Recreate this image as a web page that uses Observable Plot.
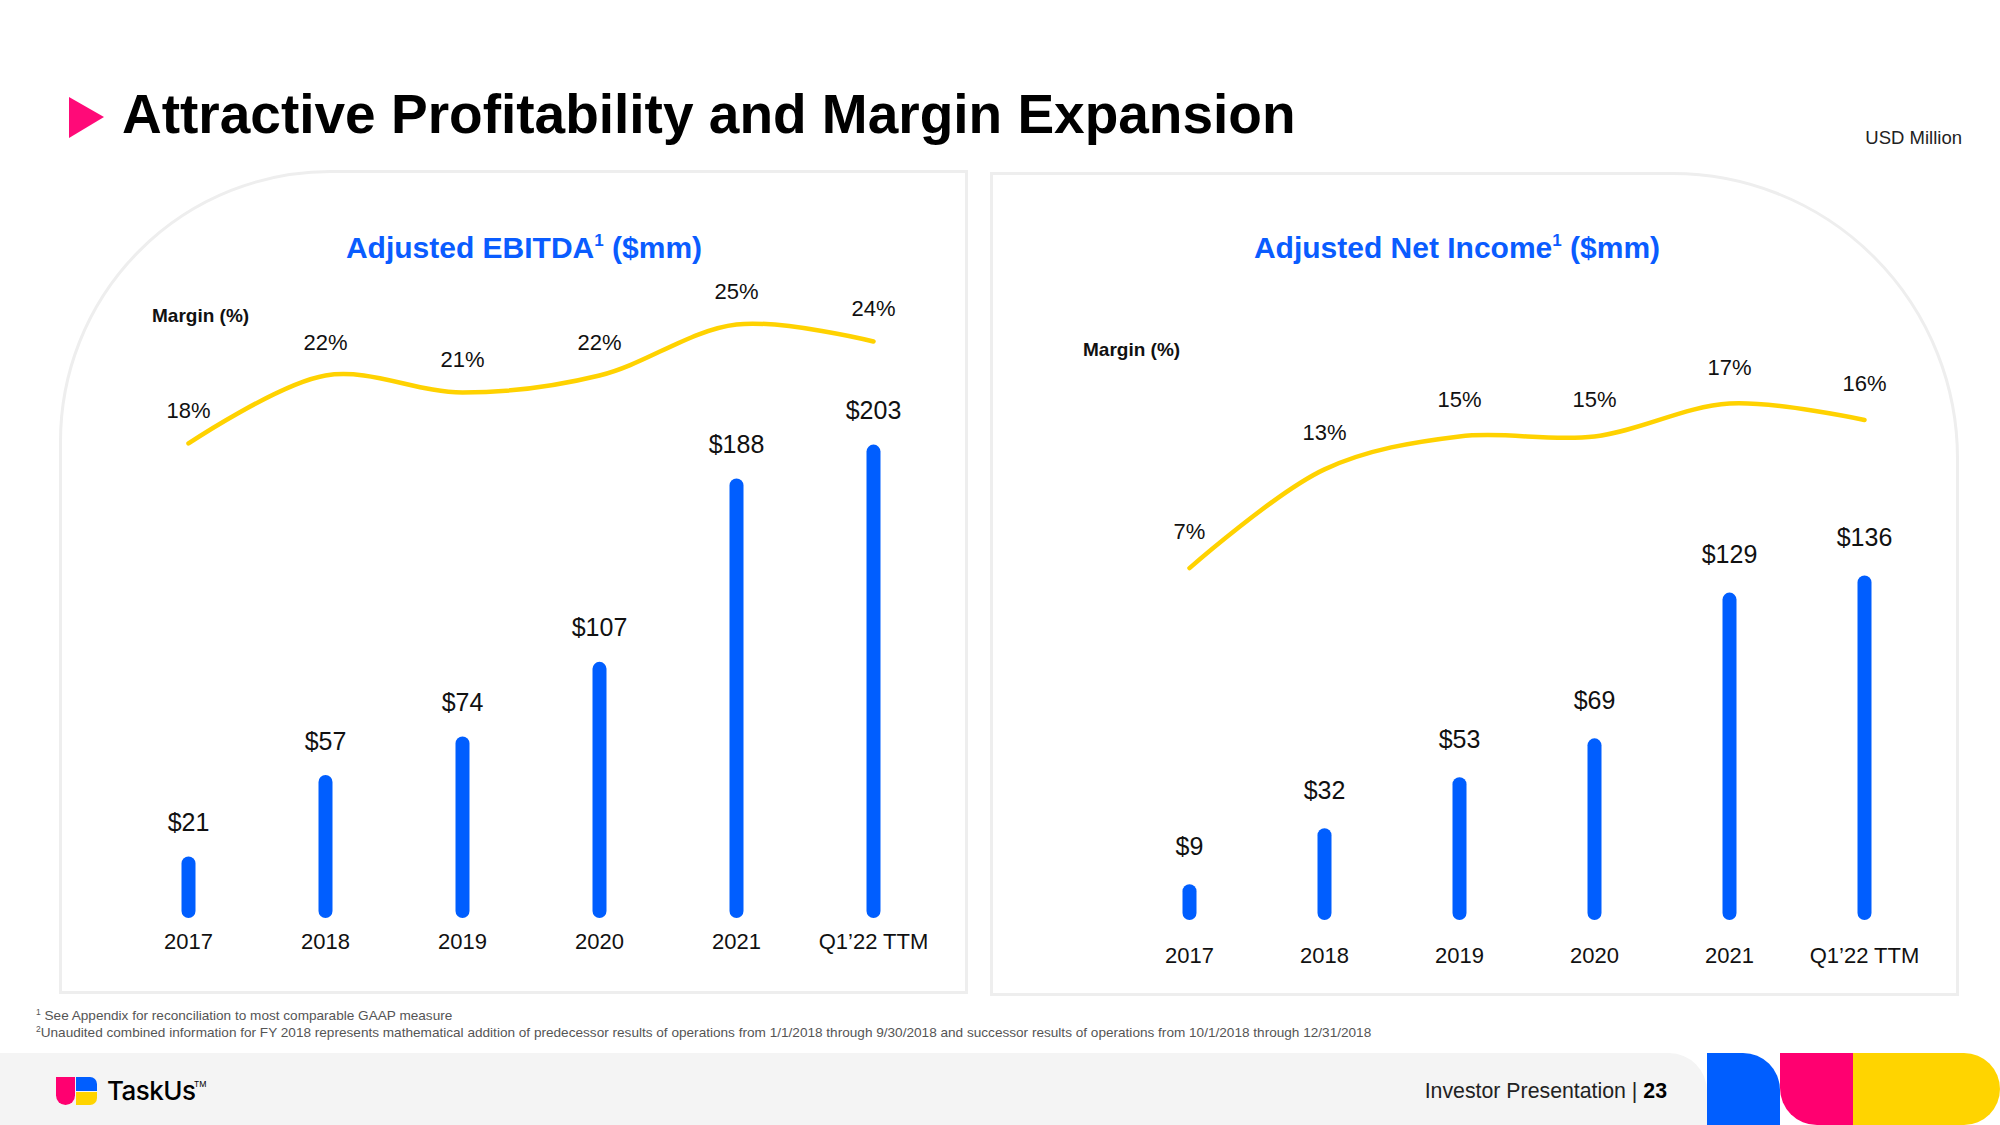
<!DOCTYPE html>
<html>
<head>
<meta charset="utf-8">
<script src="https://cdn.jsdelivr.net/npm/d3@7"></script>
<script src="https://cdn.jsdelivr.net/npm/@observablehq/plot@0.6"></script>
<style>
  html, body { margin: 0; padding: 0; background: #fff; }
  body { width: 2000px; height: 1125px; position: relative; overflow: hidden;
         font-family: "Liberation Sans", Arial, sans-serif; color: #111; }
  #bg { position: absolute; left: 0; top: 0; }
  .holder { position: absolute; }
  .holder svg { position: absolute; left: 0; top: 0; }
</style>
</head>
<body>
<svg id="bg" width="2000" height="1125" xmlns="http://www.w3.org/2000/svg" font-family="'Liberation Sans', Arial, sans-serif">
  <!-- panels -->
  <path d="M 60.5 992.5 L 60.5 441.5 A 270 270 0 0 1 330.5 171.5 L 966.5 171.5 L 966.5 992.5 Z" fill="#fff" stroke="#eeeeee" stroke-width="3"/>
  <path d="M 991.5 994.5 L 991.5 173.5 L 1672.5 173.5 A 285 285 0 0 1 1957.5 458.5 L 1957.5 994.5 Z" fill="#fff" stroke="#eeeeee" stroke-width="3"/>
  <!-- title -->
  <polygon points="69,97 104,117 69,138" fill="#FF0A78"/>
  <text x="122" y="133" font-size="55" font-weight="bold" fill="#000">Attractive Profitability and Margin Expansion</text>
  <text x="1962" y="144" font-size="18.5" text-anchor="end" fill="#222">USD Million</text>
  <!-- chart titles -->
  <text x="524" y="258" font-size="30" font-weight="bold" fill="#0A5CFF" text-anchor="middle">Adjusted EBITDA<tspan font-size="17" dy="-12">1</tspan><tspan dy="12"> ($mm)</tspan></text>
  <text x="1457" y="258" font-size="30" font-weight="bold" fill="#0A5CFF" text-anchor="middle">Adjusted Net Income<tspan font-size="17" dy="-12">1</tspan><tspan dy="12"> ($mm)</tspan></text>
  <text x="152" y="322" font-size="19" font-weight="bold" fill="#111">Margin (%)</text>
  <text x="1083" y="356" font-size="19" font-weight="bold" fill="#111">Margin (%)</text>
  <!-- footnotes -->
  <text x="36" y="1019.5" font-size="13.6" fill="#555"><tspan font-size="8.5" dy="-5">1</tspan><tspan dy="5"> See Appendix for reconciliation to most comparable GAAP measure</tspan></text>
  <text x="36" y="1036.5" font-size="13.6" fill="#555"><tspan font-size="8.5" dy="-5">2</tspan><tspan dy="5">Unaudited combined information for FY 2018 represents mathematical addition of predecessor results of operations from 1/1/2018 through 9/30/2018 and successor results of operations from 10/1/2018 through 12/31/2018</tspan></text>
  <!-- footer -->
  <path d="M 0 1053 L 1669 1053 A 38 38 0 0 1 1707 1091 L 1707 1125 L 0 1125 Z" fill="#f4f4f4"/>
  <path d="M 1707 1053 L 1743 1053 A 37 37 0 0 1 1780 1090 L 1780 1125 L 1707 1125 Z" fill="#005EFF"/>
  <path d="M 1780 1053 L 1853 1053 L 1853 1125 L 1817 1125 A 37 37 0 0 1 1780 1088 Z" fill="#FF0070"/>
  <path d="M 1853 1053 L 1964 1053 A 36 36 0 0 1 1964 1125 L 1853 1125 Z" fill="#FFD400"/>
  <text x="1667" y="1098" font-size="21.3" text-anchor="end" fill="#222">Investor Presentation | <tspan font-weight="bold" fill="#000">23</tspan></text>
  <!-- logo -->
  <path d="M 56 1077 L 75 1077 L 75 1095.5 A 9.5 9.5 0 0 1 56 1095.5 Z" fill="#FF0070"/>
  <path d="M 76 1077 L 90 1077 A 7 7 0 0 1 97 1084 L 97 1091 L 76 1091 Z" fill="#005EFF"/>
  <path d="M 76 1092 L 97 1092 L 97 1098 A 7 7 0 0 1 90 1105 L 76 1105 Z" fill="#FFD400"/>
  <text x="107" y="1100" font-size="26" font-weight="500" font-family="Inter, 'Liberation Sans', sans-serif" letter-spacing="-0.5" fill="#000">TaskUs</text>
  <text x="194" y="1087" font-size="8" font-family="Inter, sans-serif" fill="#000">TM</text>
</svg>

<div id="left" class="holder" style="left:60px;top:280px;width:910px;height:700px;"></div>
<div id="right" class="holder" style="left:1000px;top:280px;width:960px;height:700px;"></div>

<script>
// ---- data ----
const categories = ["2017", "2018", "2019", "2020", "2021", "Q1\u201922 TTM"];
const ebitdaValues = [21, 57, 74, 107, 188, 203];
const ebitdaMargins = [18, 22, 21, 22, 25, 24];
const netIncomeValues = [9, 32, 53, 69, 129, 136];
const netIncomeMargins = [7, 13, 15, 15, 17, 16];

const BLUE = "#005EFF";
const YELLOW = "#FFD200";
const FONT = "'Liberation Sans', Arial, sans-serif";

function rows(values, margins) {
  return categories.map((c, i) => ({cat: c, value: values[i], margin: margins[i]}));
}

function drawPanel(holderId, data, cfg) {
  const holder = document.getElementById(holderId);
  const common = {
    width: cfg.width, height: cfg.height,
    marginLeft: cfg.mLeft, marginRight: cfg.mRight,
    style: {fontFamily: FONT, fontSize: "22px", background: "transparent", overflow: "visible", maxWidth: "none", color: "#111"}
  };
  const bars = Plot.plot({
    ...common,
    marginTop: cfg.barTop, marginBottom: cfg.barBottom,
    x: {type: "point", domain: categories, padding: 0},
    y: {domain: [0, cfg.barMax], axis: null},
    marks: [
      Plot.ruleX(data, {x: "cat", y1: 0, y2: "value", stroke: BLUE, strokeWidth: 14, strokeLinecap: "round"}),
      Plot.text(data, {x: "cat", y: "value", text: d => "$" + d.value, dy: cfg.valueDy, fontSize: 25, fill: "#111"}),
      Plot.axisX({tickSize: 0, tickPadding: cfg.tickPad, fontSize: 22, label: null, fill: "#111"})
    ]
  });
  const line = Plot.plot({
    ...common,
    marginTop: cfg.lineTop, marginBottom: cfg.lineBottom,
    x: {type: "point", domain: categories, padding: 0, axis: null},
    y: {domain: [0, cfg.lineMax], axis: null},
    marks: [
      Plot.line(data, {x: "cat", y: "margin", stroke: YELLOW, strokeWidth: 4.5, curve: "catmull-rom"}),
      Plot.text(data, {x: "cat", y: "margin", text: d => d.margin + "%", dy: cfg.pctDy, fontSize: 22, fill: "#111"})
    ]
  });
  holder.appendChild(bars);
  holder.appendChild(line);
}

drawPanel("left", rows(ebitdaValues, ebitdaMargins), {
  width: 910, height: 700, mLeft: 126, mRight: 96,
  barTop: 20, barBottom: 69, barMax: 270, valueDy: -41, tickPad: 22,
  lineTop: 20, lineBottom: 231, lineMax: 26.41, pctDy: -33
});

drawPanel("right", rows(netIncomeValues, netIncomeMargins), {
  width: 960, height: 700, mLeft: 187.5, mRight: 94,
  barTop: 20, barBottom: 67, barMax: 252.3, valueDy: -45, tickPad: 34,
  lineTop: 20, lineBottom: 297.2, lineMax: 23.26, pctDy: -36
});
</script>
</body>
</html>
